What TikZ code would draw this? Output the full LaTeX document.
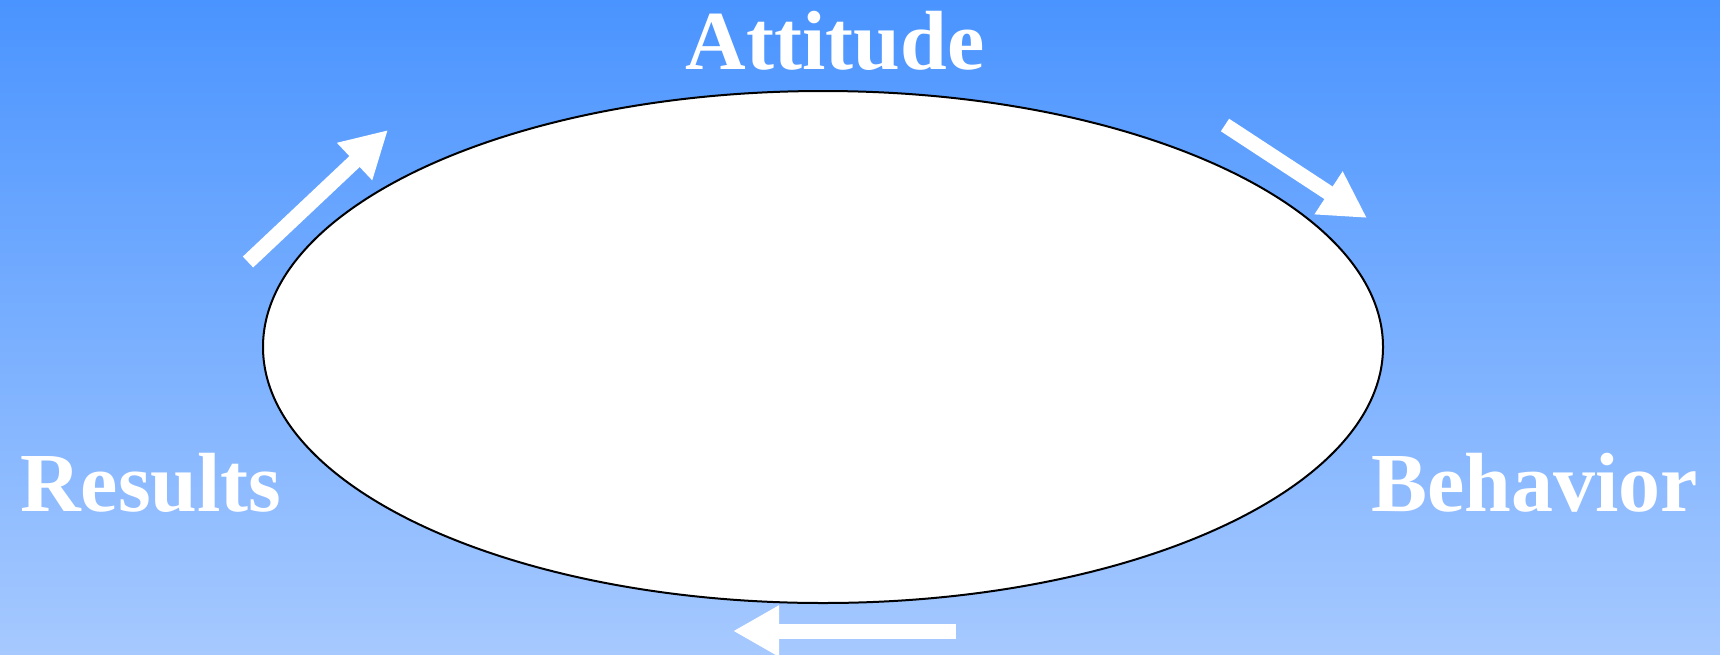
\documentclass[tikz,border=0pt]{standalone}
\usepackage{fontspec}
\setmainfont{Liberation Serif}
\usetikzlibrary{arrows.meta,shapes.geometric}
\definecolor{bgtop}{RGB}{74,148,255}
\definecolor{bgbot}{RGB}{166,201,255}
\tikzset{
  lbl/.style={text=white, font=\fontsize{84}{100}\selectfont\bfseries, inner sep=0pt},
  cyc/.style={white, line width=15pt, -{Triangle[width=48pt,length=46pt]}},
}
\begin{document}
\begin{tikzpicture}[x=1pt,y=-1pt]
\shade[top color=bgtop, bottom color=bgbot] (0,0) rectangle (1720,654);
\useasboundingbox (0,0) rectangle (1720,654);
\node[draw=black, line width=2pt, fill=white, ellipse, minimum width=1120pt, minimum height=512pt, inner sep=0pt] (loop) at (823,347) {};
\node[lbl, anchor=base] (att) at (835,69) {Attitude};
\node[lbl, anchor=base west] (res) at (20,511) {Results};
\node[lbl, anchor=base west] (beh) at (1371,511) {Behavior};
\coordinate (a1s) at (248,262);
\coordinate (a1e) at (388,130);
\coordinate (a2s) at (1225,125);
\coordinate (a2e) at (1367,218);
\coordinate (a3s) at (956,631);
\coordinate (a3e) at (733,631);
\draw[cyc] (a1s) -- (a1e);
\draw[cyc] (a2s) -- (a2e);
\draw[cyc] (a3s) -- (a3e);
\end{tikzpicture}
\end{document}
